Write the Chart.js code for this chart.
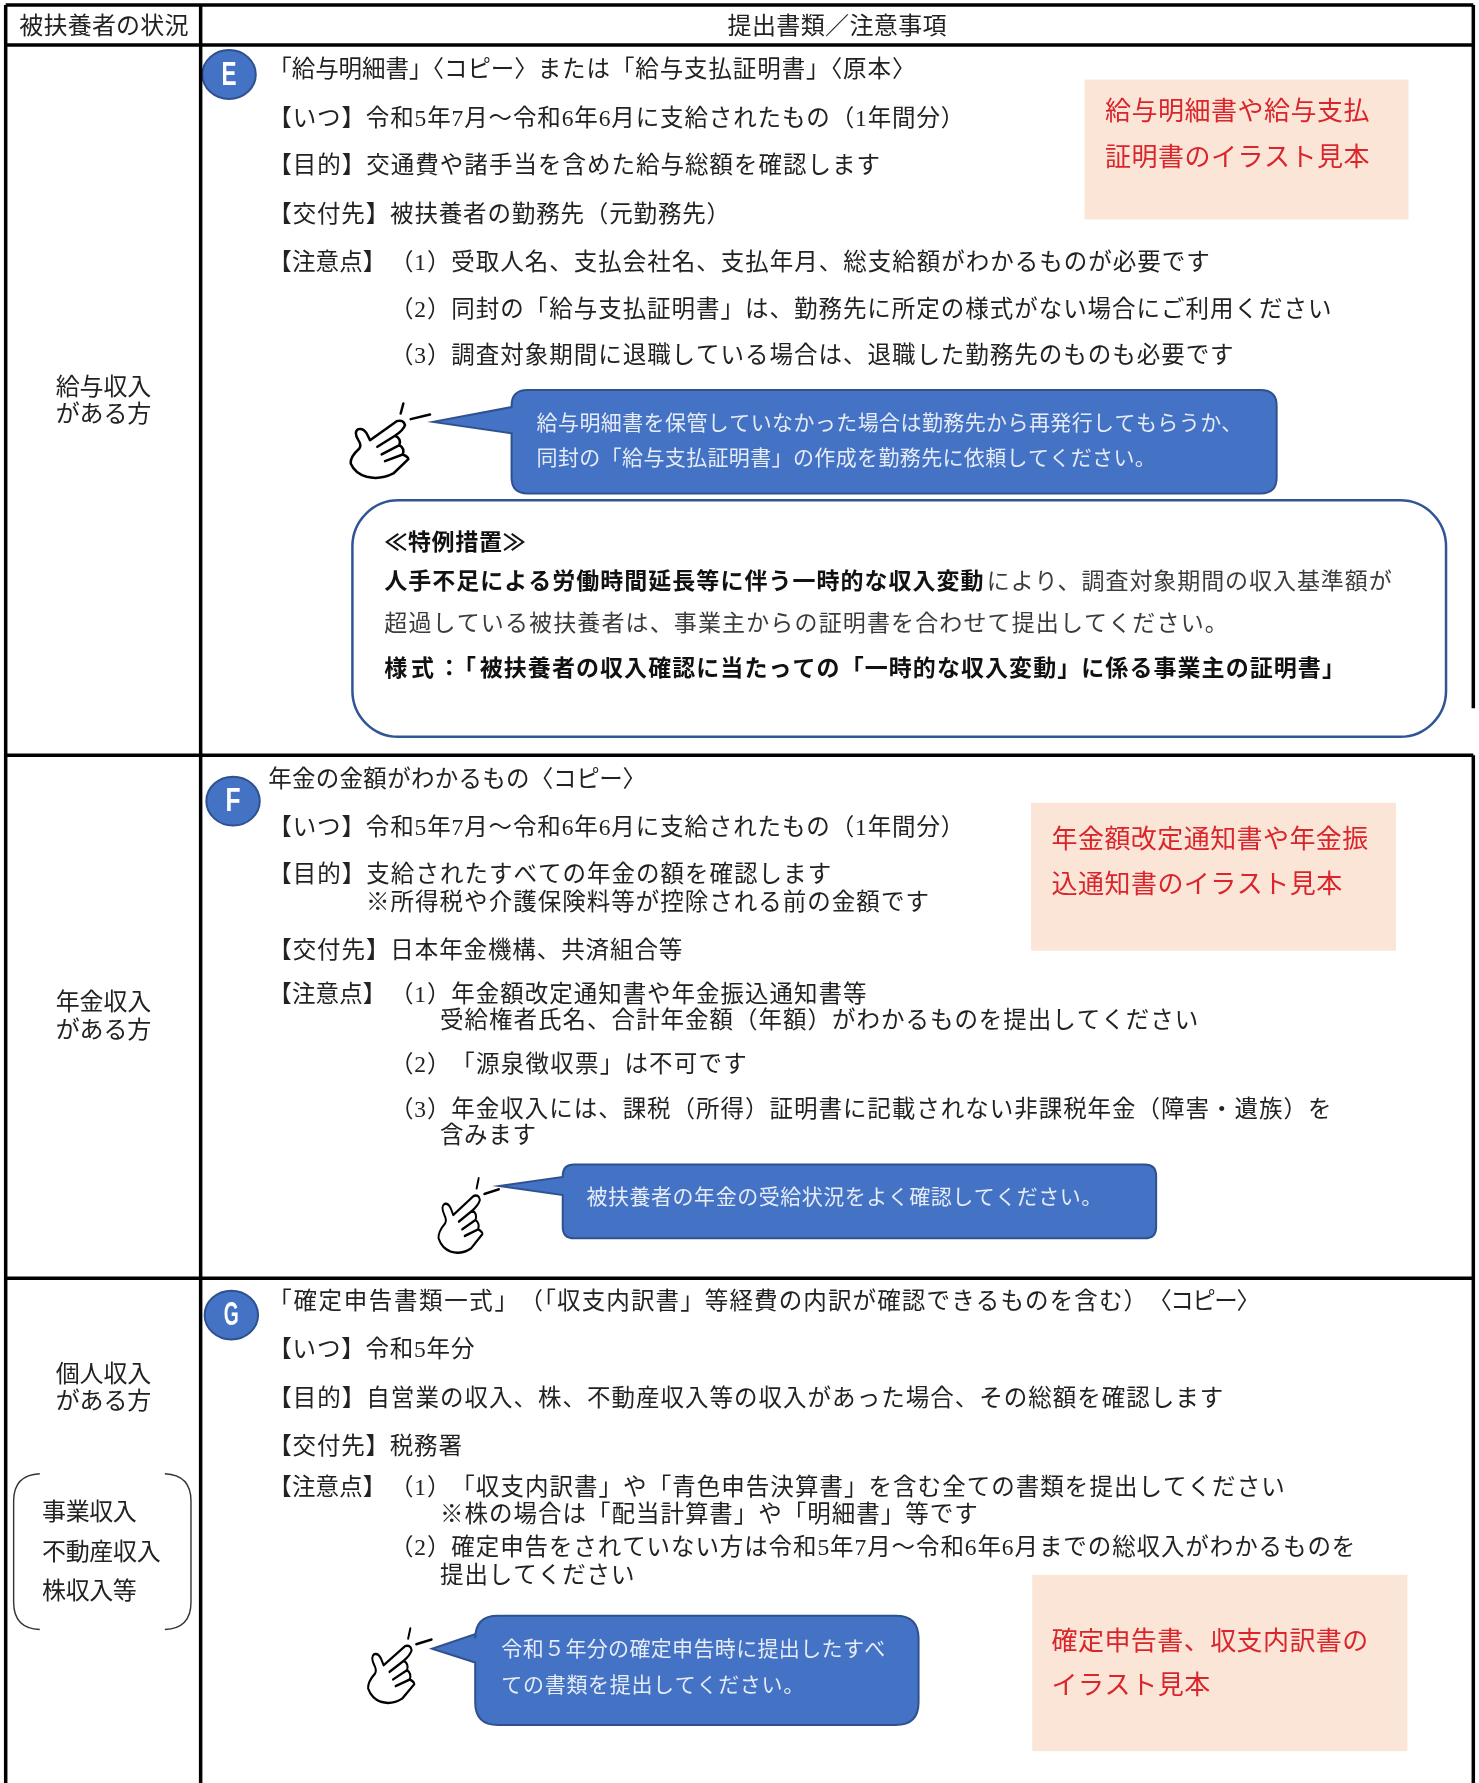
<!DOCTYPE html>
<html lang="ja">
<head>
<meta charset="utf-8">
<title>提出書類／注意事項</title>
<script src="https://cdn.jsdelivr.net/npm/chart.js@4"></script>
<style>
    html, body { margin: 0; background: #fff; }
    canvas { display: block; }
</style>
</head>
<body>
<canvas id="tablaChart" width="1479" height="1783"></canvas>
<script>
// texts
const headerLabels = ['被扶養者の状況', '提出書類／注意事項'];
const rowLabels = ['給与収入', 'がある方', '年金収入', 'がある方', '個人収入', 'がある方', '事業収入', '不動産収入', '株収入等'];
const bodyLines = [
    '「給与明細書」〈コピー〉',
    'または「給与支払証明書」〈原本〉',
    '【いつ】令和5年7月～令和6年6月に支給されたもの（1年間分）',
    '【目的】交通費や諸手当を含めた給与総額を確認します',
    '【交付先】被扶養者の勤務先（元勤務先）',
    '【注意点】',
    '（1）',
    '受取人名、支払会社名、支払年月、総支給額がわかるものが必要です',
    '（2）',
    '同封の「給与支払証明書」は、勤務先に所定の様式がない場合にご利用ください',
    '（3）',
    '調査対象期間に退職している場合は、退職した勤務先のものも必要です',
    '年金の金額がわかるもの',
    '〈コピー〉',
    '【いつ】令和5年7月～令和6年6月に支給されたもの（1年間分）',
    '【目的】支給されたすべての年金の額を確認します',
    '※所得税や介護保険料等が控除される前の金額です',
    '【交付先】日本年金機構、共済組合等',
    '【注意点】',
    '（1）',
    '年金額改定通知書や年金振込通知書等',
    '受給権者氏名、合計年金額（年額）がわかるものを提出してください',
    '（2）',
    '「源泉徴収票」は不可です',
    '（3）',
    '年金収入には、課税（所得）証明書に記載されない非課税年金（障害・遺族）を',
    '含みます',
    '「確定申告書類一式」',
    '（「収支内訳書」等経費の内訳が確認できるものを含む）',
    '〈コピー〉',
    '【いつ】令和5年分',
    '【目的】自営業の収入、株、不動産収入等の収入があった場合、その総額を確認します',
    '【交付先】税務署',
    '【注意点】',
    '（1）',
    '「収支内訳書」や「青色申告決算書」を含む全ての書類を提出してください',
    '※株の場合は「配当計算書」や「明細書」等です',
    '（2）',
    '確定申告をされていない方は令和5年7月～令和6年6月までの総収入がわかるものを',
    '提出してください'
];
const calloutLines = [
    '給与明細書を保管していなかった場合は勤務先から再発行してもらうか、',
    '同封の「給与支払証明書」の作成を勤務先に依頼してください。',
    '被扶養者の年金の受給状況をよく確認してください。',
    '令和５年分の確定申告時に提出したすべ',
    'ての書類を提出してください。'
];
const sampleLines = [
    '給与明細書や給与支払', '証明書のイラスト見本',
    '年金額改定通知書や年金振', '込通知書のイラスト見本',
    '確定申告書、収支内訳書の', 'イラスト見本'
];
const noticeBold = [
    '≪特例措置≫',
    '人手不足による労働時間延長等に伴う一時的な収入変動',
    '様式：「',
    '被扶養者の収入確認に当たっての「一時的な収入変動」に係る事業主の証明書」'
];
const noticePlain = [
    'により、調査対象期間の収入基準額が',
    '超過している被扶養者は、事業主からの証明書を合わせて提出してください。'
];
const badgeLetters = ['E', 'F', 'G'];

// layout: [left, right, centre y]
const headerPlaces = [[17, 166, 24], [640, 833, 24]];
const rowPlaces = [[49, 133, 342], [49, 133, 366], [49, 133, 883], [49, 133, 907], [49, 133, 1210], [49, 133, 1234],
    [37, 120, 1331], [37, 141, 1366], [37, 120, 1401]];
const bodyPlaces = [
    [236, 473, 62], [473, 806, 62], [236, 849, 105], [236, 775, 147], [236, 643, 190], [236, 340, 232],
    [343, 397, 232], [397, 1065, 232], [343, 397, 273], [397, 1172, 273], [343, 397, 314], [397, 1086, 314],
    [236, 466, 687], [466, 568, 687], [236, 849, 729], [236, 732, 770], [322, 818, 795], [236, 601, 837], [236, 340, 876],
    [343, 397, 876], [397, 763, 876], [387, 1055, 899], [343, 397, 937], [397, 658, 937], [343, 397, 977], [397, 1172, 977], [387, 472, 1000],
    [236, 457, 1146], [457, 1010, 1146], [1010, 1107, 1146], [236, 418, 1188], [236, 1077, 1231], [236, 407, 1273], [236, 340, 1309],
    [343, 397, 1309], [397, 1131, 1309], [387, 861, 1333], [343, 397, 1362], [397, 1193, 1362], [387, 559, 1387]
];
const calloutPlaces = [[472, 1093, 371], [472, 1017, 402], [516, 970, 1052], [441, 779, 1449], [441, 708, 1481]];
const samplePlaces = [[972, 1205, 97], [972, 1205, 137], [925, 1204, 737], [925, 1181, 777], [925, 1204, 1442], [925, 1065, 1481]];
const noticeBoldPlaces = [[338, 463, 476], [338, 866, 510], [338, 422, 587], [422, 1184, 587]];
const noticePlainPlaces = [[868, 1225, 510], [338, 1081, 547]];
const colEdges = [5, 176.5];
const rightEdges = [[1296, 4.4, 622.8], [1296, 664.1, 1568]];
const rowEdges = [4.4, 39.6, 664.1, 1124.2];
const badgePlaces = [[201.5, 65.5, 23.5, 21.5], [205, 704.5, 23.5, 21.5], [203.5, 1156.5, 23.5, 21.5]];
const samplePanels = [[954, 70, 1239, 193], [907, 706, 1228, 836], [908, 1385, 1238, 1540]];
// rect left, top, right, bottom, tip x, tip y, notch top, notch bottom, corner
const calloutShapes = [
    [450, 343, 1123, 434, 381, 371, 358, 381, 14],
    [495, 1024, 1017, 1089, 439, 1043, 1035, 1051, 10],
    [418, 1421, 808, 1517, 380, 1450, 1437, 1462, 20]
];
const handPlaces = [[299.1, 347.5, 0.2932, 0.2932], [378.6, 1028.9, 0.2234, 0.2932], [316.3, 1424.8, 0.2349, 0.2932]];

const JP = '"Liberation Serif", "Noto Sans CJK JP", sans-serif';
const JP_SANS = '"Noto Sans CJK JP", sans-serif';

function fitText(chart, text, place, font, color) {
    const { ctx, scales } = chart;
    const left = scales.x.getPixelForValue(place[0]);
    const right = scales.x.getPixelForValue(place[1]);
    ctx.font = font;
    ctx.fillStyle = color;
    ctx.textBaseline = 'middle';
    ctx.textAlign = 'left';
    ctx.letterSpacing = '0px';
    const gap = (right - left - ctx.measureText(text).width) / [...text].length;
    ctx.letterSpacing = gap + 'px';
    ctx.fillText(text, left, scales.y.getPixelForValue(place[2]));
    ctx.letterSpacing = '0px';
}

function drawRoundBox(ctx, l, t, r, b, rad) {
    ctx.beginPath();
    ctx.roundRect(l, t, r - l, b - t, rad);
}

const tablePlugin = {
    id: 'tablePlugin',
    beforeDatasetsDraw(chart) {
        const { ctx, scales } = chart;
        const px = v => scales.x.getPixelForValue(v);
        const py = v => scales.y.getPixelForValue(v);
        const k = px(1) - px(0);

        // peach panels
        ctx.fillStyle = '#fbe5d6';
        samplePanels.forEach(p => ctx.fillRect(px(p[0]), py(p[1]), px(p[2]) - px(p[0]), py(p[3]) - py(p[1])));

        // notice frame
        ctx.strokeStyle = '#2f5597';
        ctx.lineWidth = 2.5;
        drawRoundBox(ctx, px(310), py(440), px(1272), py(648), 46);
        ctx.stroke();

        // blue callouts
        calloutShapes.forEach(s => {
            const l = px(s[0]), t = py(s[1]), r = px(s[2]), b = py(s[3]), c = s[8] * k;
            ctx.beginPath();
            ctx.moveTo(l + c, t);
            ctx.lineTo(r - c, t);
            ctx.quadraticCurveTo(r, t, r, t + c);
            ctx.lineTo(r, b - c);
            ctx.quadraticCurveTo(r, b, r - c, b);
            ctx.lineTo(l + c, b);
            ctx.quadraticCurveTo(l, b, l, b - c);
            ctx.lineTo(l, py(s[7]));
            ctx.lineTo(px(s[4]), py(s[5]));
            ctx.lineTo(l, py(s[6]));
            ctx.lineTo(l, t + c);
            ctx.quadraticCurveTo(l, t, l + c, t);
            ctx.closePath();
            ctx.fillStyle = '#4472c4';
            ctx.fill();
            ctx.strokeStyle = '#2f528f';
            ctx.lineWidth = 2;
            ctx.stroke();
        });

        // badges
        badgePlaces.forEach(b => {
            ctx.beginPath();
            ctx.ellipse(px(b[0]), py(b[1]), b[2] * k, b[3] * k, 0, 0, Math.PI * 2);
            ctx.fillStyle = '#4472c4';
            ctx.fill();
            ctx.strokeStyle = '#2f528f';
            ctx.lineWidth = 2;
            ctx.stroke();
        });

        // brackets round the income list
        ctx.strokeStyle = '#333';
        ctx.lineWidth = 1.4;
        ctx.beginPath();
        ctx.moveTo(px(35), py(1296));
        ctx.quadraticCurveTo(px(12), py(1297), px(12), py(1320));
        ctx.lineTo(px(12), py(1409));
        ctx.quadraticCurveTo(px(12), py(1432), px(35), py(1433));
        ctx.moveTo(px(145), py(1296));
        ctx.quadraticCurveTo(px(168), py(1297), px(168), py(1320));
        ctx.lineTo(px(168), py(1409));
        ctx.quadraticCurveTo(px(168), py(1432), px(145), py(1433));
        ctx.stroke();

        // pointing hands
        handPlaces.forEach(h => {
            ctx.save();
            ctx.translate(px(h[0]), py(h[1]));
            ctx.scale(h[2] * k, h[3] * k);
            ctx.strokeStyle = '#000';
            ctx.lineWidth = 7.5;
            ctx.lineJoin = 'round';
            ctx.lineCap = 'round';
            ctx.beginPath();
            ctx.moveTo(90, 135);
            ctx.lineTo(170, 78);
            ctx.quadraticCurveTo(190, 72, 195, 90);
            ctx.quadraticCurveTo(190, 105, 165, 122);
            ctx.quadraticCurveTo(185, 130, 178, 150);
            ctx.quadraticCurveTo(195, 160, 188, 178);
            ctx.quadraticCurveTo(205, 185, 205, 192);
            ctx.lineTo(160, 235);
            ctx.quadraticCurveTo(120, 255, 80, 245);
            ctx.quadraticCurveTo(45, 235, 32, 205);
            ctx.quadraticCurveTo(30, 185, 58, 160);
            ctx.quadraticCurveTo(65, 150, 55, 135);
            ctx.quadraticCurveTo(40, 110, 55, 102);
            ctx.quadraticCurveTo(70, 98, 80, 115);
            ctx.closePath();
            ctx.moveTo(112, 155); ctx.lineTo(165, 122);
            ctx.moveTo(125, 178); ctx.lineTo(178, 150);
            ctx.moveTo(135, 198); ctx.lineTo(188, 178);
            ctx.moveTo(190, 25); ctx.lineTo(182, 55);
            ctx.moveTo(212, 72); ctx.lineTo(270, 58);
            ctx.stroke();
            ctx.restore();
        });
    },
    afterDatasetsDraw(chart) {
        const { ctx, scales } = chart;
        headerLabels.forEach((t, i) => fitText(chart, t, headerPlaces[i], '24px ' + JP, '#222'));
        rowLabels.forEach((t, i) => fitText(chart, t, rowPlaces[i], '24px ' + JP, '#222'));
        bodyLines.forEach((t, i) => fitText(chart, t, bodyPlaces[i], '23.5px ' + JP, '#222'));
        calloutLines.forEach((t, i) => fitText(chart, t, calloutPlaces[i], '21px ' + JP_SANS, '#e6ecf7'));
        sampleLines.forEach((t, i) => fitText(chart, t, samplePlaces[i], '26px ' + JP_SANS, '#d9252b'));
        noticeBold.forEach((t, i) => fitText(chart, t, noticeBoldPlaces[i], 'bold 23px ' + JP_SANS, '#111'));
        noticePlain.forEach((t, i) => fitText(chart, t, noticePlainPlaces[i], '23px ' + JP_SANS, '#3c3c3c'));

        ctx.textAlign = 'center';
        ctx.textBaseline = 'middle';
        ctx.fillStyle = '#fff';
        badgeLetters.forEach((t, i) => {
            ctx.font = 'bold 33px "Liberation Sans", sans-serif';
            ctx.fillText(t, scales.x.getPixelForValue(badgePlaces[i][0]), scales.y.getPixelForValue(badgePlaces[i][1]) + 1, 15);
        });
    }
};

const ruleSets = [
    ...rowEdges.map(y => [{ x: 5, y }, { x: 1296, y }]),
    ...colEdges.map(x => [{ x, y: 4.4 }, { x, y: 1568 }]),
    ...rightEdges.map(e => [{ x: e[0], y: e[1] }, { x: e[0], y: e[2] }])
];

new Chart(document.getElementById('tablaChart').getContext('2d'), {
    type: 'scatter',
    data: {
        datasets: ruleSets.map(points => ({
            data: points,
            showLine: true,
            borderColor: '#000',
            borderWidth: 3.5,
            pointRadius: 0,
            clip: false
        }))
    },
    options: {
        responsive: false,
        animation: false,
        layout: { padding: 0 },
        plugins: { legend: { display: false }, tooltip: { enabled: false } },
        scales: {
            x: { type: 'linear', min: 0, max: 1301, display: false },
            y: { type: 'linear', min: 0, max: 1568, reverse: true, display: false }
        }
    },
    plugins: [tablePlugin]
});
</script>
</body>
</html>
